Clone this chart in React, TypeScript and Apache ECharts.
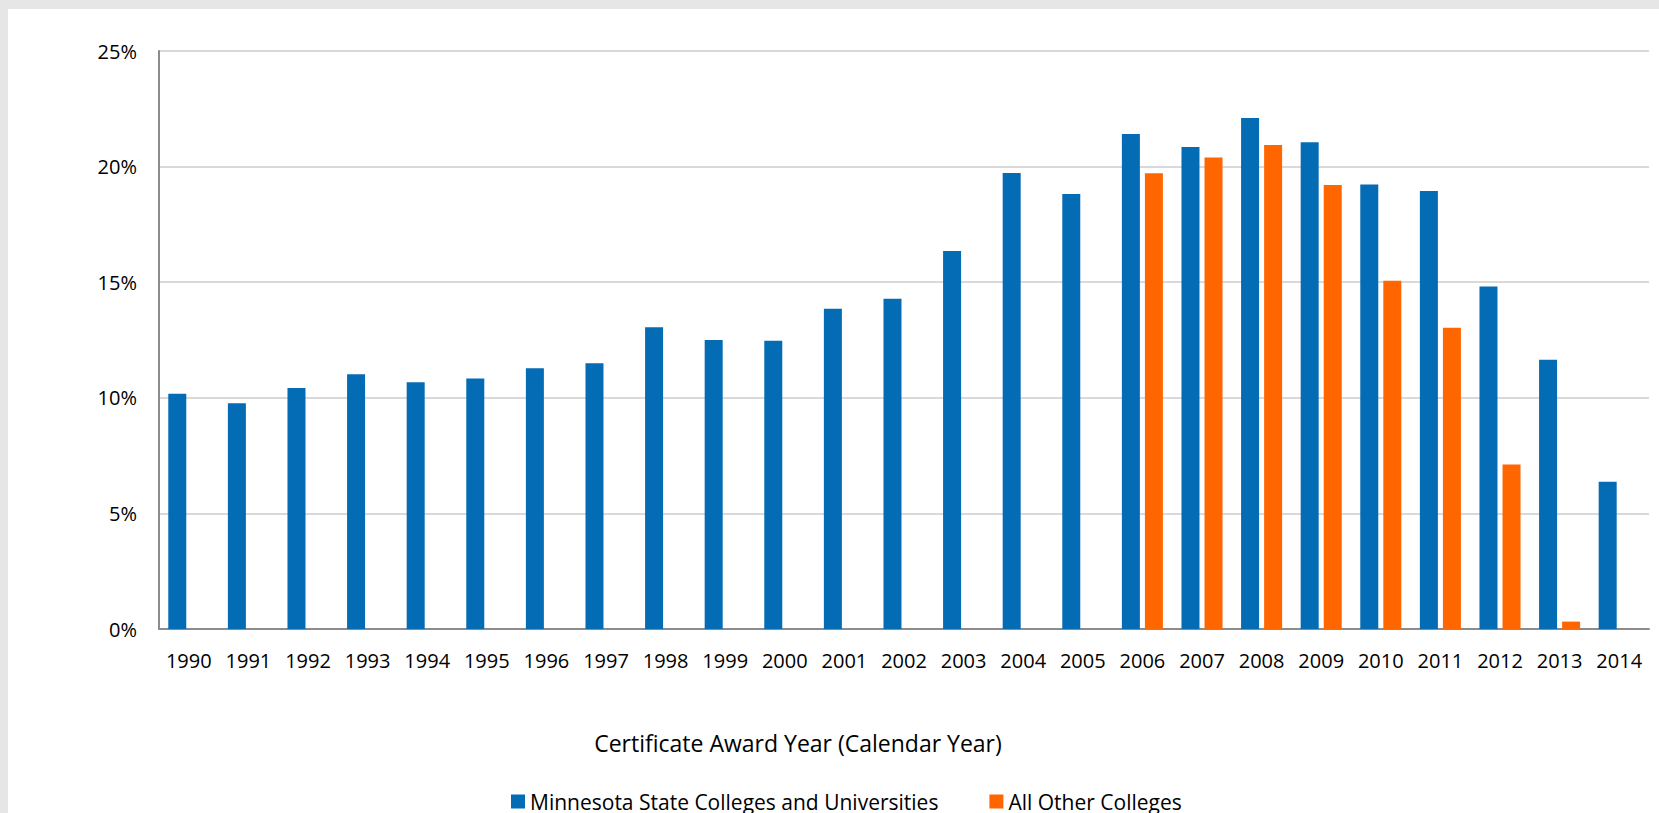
import React, { useEffect, useRef } from "react";
import * as echarts from "echarts";

const years = [
  "1990", "1991", "1992", "1993", "1994", "1995", "1996", "1997", "1998", "1999",
  "2000", "2001", "2002", "2003", "2004", "2005", "2006", "2007", "2008", "2009",
  "2010", "2011", "2012", "2013", "2014",
];

const mnscuValues = [
  10.18, 9.76, 10.42, 11.02, 10.67, 10.84, 11.28, 11.49, 13.05, 12.5,
  12.47, 13.85, 14.28, 16.35, 19.72, 18.81, 21.41, 20.85, 22.1, 21.05,
  19.23, 18.94, 14.81, 11.65, 6.37,
];

const otherValues = [
  null, null, null, null, null, null, null, null, null, null,
  null, null, null, null, null, null, 19.71, 20.39, 20.93, 19.2,
  15.06, 13.03, 7.11, 0.32, null,
];

const seriesNames = ["Minnesota State Colleges and Universities", "All Other Colleges"];
const xAxisTitle = "Certificate Award Year (Calendar Year)";

const FONT = "'Open Sans', 'Noto Sans', sans-serif";

export default function App() {
  const ref = useRef<HTMLDivElement>(null);

  useEffect(() => {
    if (!ref.current) return;
    const chart = echarts.init(ref.current, undefined, { renderer: "svg" });
    chart.setOption({
      animation: false,
      backgroundColor: "#ffffff",
      textStyle: { fontFamily: FONT },
      grid: { left: 151, right: 10, top: 42, bottom: 184, containLabel: false },
      legend: {
        left: 503,
        top: 782,
        padding: 0,
        itemWidth: 14,
        itemHeight: 14,
        itemGap: 51,
        icon: "rect",
        textStyle: { fontFamily: FONT, fontSize: 21, color: "#000000" },
        data: seriesNames,
      },
      graphic: [
        {
          type: "text",
          x: 790,
          y: 734,
          style: {
            text: xAxisTitle,
            fontFamily: FONT,
            fontSize: 23,
            fill: "#000000",
            textAlign: "center",
            textVerticalAlign: "middle",
          },
        },
      ],
      xAxis: {
        type: "category",
        data: years,
        axisLine: { show: true, lineStyle: { color: "#8c8c8c", width: 2 } },
        axisTick: { show: false },
        axisLabel: {
          fontFamily: FONT,
          fontSize: 20,
          color: "#000000",
          margin: 21,
          interval: 0,
        },
        splitLine: { show: false },
      },
      yAxis: {
        type: "value",
        min: 0,
        max: 25,
        interval: 5,
        axisLine: { show: true, lineStyle: { color: "#8c8c8c", width: 2 } },
        axisTick: { show: false },
        axisLabel: {
          fontFamily: FONT,
          fontSize: 20,
          color: "#000000",
          margin: 22,
          formatter: "{value}%",
        },
        splitLine: { show: true, lineStyle: { color: "#d9d9d9", width: 2 } },
      },
      series: [
        {
          name: seriesNames[0],
          type: "bar",
          data: mnscuValues,
          barWidth: 18,
          barGap: "28%",
          itemStyle: { color: "#046bb5" },
        },
        {
          name: seriesNames[1],
          type: "bar",
          data: otherValues,
          barWidth: 18,
          itemStyle: { color: "#ff6600" },
        },
      ],
    });
    return () => chart.dispose();
  }, []);

  return (
    <div
      style={{
        position: "absolute",
        left: 0,
        top: 0,
        width: 1659,
        height: 813,
        background: "#e6e6e6",
        overflow: "hidden",
      }}
    >
      <div
        ref={ref}
        style={{ position: "absolute", left: 8, top: 9, width: 1651, height: 804 }}
      />
    </div>
  );
}
